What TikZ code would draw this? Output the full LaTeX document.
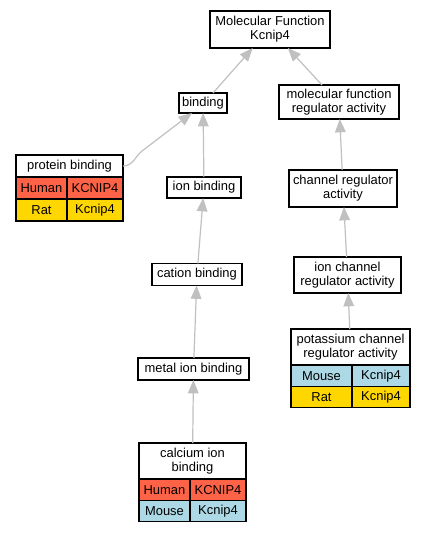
\documentclass[tikz,border=0pt]{standalone}
\usepackage{fontspec}
\setmainfont{Liberation Sans}
\usetikzlibrary{
  arrows.meta
}
\definecolor{humanfill}{HTML}{FF6347}
\definecolor{mousefill}{HTML}{ADD8E6}
\definecolor{ratfill}{HTML}{FFD700}
\definecolor{edgegray}{HTML}{C0C0C0}
\tikzset{
  go term/.style={
    draw=black,
    line width=0.8pt,
    fill=white,
    align=center,
    inner sep=0pt,
    outer sep=0pt,
    font=\fontsize{9.7}{10.5}\selectfont
  },
  species cell/.style={
    go term,
    anchor=north west,
    minimum height=16pt
  },
  is a/.style={
    draw=edgegray,
    line width=0.9pt,
    -{Triangle[length=10pt,width=8pt]}
  }
}

\begin{document}
\begin{tikzpicture}[x=0.75pt,y=-0.75pt]

    \useasboundingbox (0,0) rectangle (425,533);

    % ---------- 上段 ----------
    \node[go term, minimum width=90pt, minimum height=27.75pt]
      (mf) at (270,29.5) {Molecular Function\\Kcnip4};
    \node[go term, minimum width=36pt, minimum height=15pt]
      (binding) at (203,103) {binding};
    \node[go term, minimum width=90pt, minimum height=25.5pt]
      (mfra) at (339,102) {molecular function\\regulator activity};

    % ---------- binding 側 ----------
    \node[go term, minimum width=80.25pt, minimum height=16.5pt]
      (pb) at (69.5,166) {protein binding};
    \node[species cell, fill=humanfill, minimum width=38.25pt, minimum height=16.5pt]
      (pbHuman) at (pb.south west) {Human};
    \node[species cell, fill=humanfill, minimum width=42pt, minimum height=16.5pt]
      (pbHumanGene) at (pbHuman.north east) {KCNIP4};
    \node[species cell, fill=ratfill, minimum width=38.25pt, minimum height=16.5pt]
      (pbRat) at (pbHuman.south west) {Rat};
    \node[species cell, fill=ratfill, minimum width=42pt, minimum height=16.5pt]
      (pbRatGene) at (pbRat.north east) {Kcnip4};

    \node[go term, minimum width=55.5pt, minimum height=15.75pt]
      (ionb) at (204,187.5) {ion binding};
    \node[go term, minimum width=67.5pt, minimum height=16.5pt]
      (cationb) at (197,274.5) {cation binding};
    \node[go term, minimum width=83.25pt, minimum height=16.5pt]
      (metalb) at (193.5,369) {metal ion binding};

    \node[go term, minimum width=80.25pt, minimum height=27pt]
      (calciumb) at (192.5,461) {calcium ion\\binding};
    \node[species cell, fill=humanfill, minimum width=38.25pt]
      (caHuman) at (calciumb.south west) {Human};
    \node[species cell, fill=humanfill, minimum width=42pt]
      (caHumanGene) at (caHuman.north east) {KCNIP4};
    \node[species cell, fill=mousefill, minimum width=38.25pt]
      (caMouse) at (caHuman.south west) {Mouse};
    \node[species cell, fill=mousefill, minimum width=42pt]
      (caMouseGene) at (caMouse.north east) {Kcnip4};

    % ---------- regulator 側 ----------
    \node[go term, minimum width=81pt, minimum height=27.75pt]
      (chra) at (343,188.5) {channel regulator\\activity};
    \node[go term, minimum width=80.25pt, minimum height=27pt]
      (ichra) at (347.5,275) {ion channel\\regulator activity};

    \node[go term, minimum width=89.25pt, minimum height=27pt]
      (kchra) at (350.5,347) {potassium channel\\regulator activity};
    \node[species cell, fill=mousefill, minimum width=45.75pt]
      (kcMouse) at (kchra.south west) {Mouse};
    \node[species cell, fill=mousefill, minimum width=43.5pt]
      (kcMouseGene) at (kcMouse.north east) {Kcnip4};
    \node[species cell, fill=ratfill, minimum width=45.75pt]
      (kcRat) at (kcMouse.south west) {Rat};
    \node[species cell, fill=ratfill, minimum width=43.5pt]
      (kcRatGene) at (kcRat.north east) {Kcnip4};

    % ---------- is_a ----------
    \draw[is a] (binding.45) -- (mf.227);
    \draw[is a] (mfra.135) -- (mf.-46);
    \draw[is a] (pb.east)
      .. controls (133,166) and (135.5,156) .. (142,151)
      -- (binding.222);
    \draw[is a] (ionb) -- (binding);
    \draw[is a] (cationb) -- (ionb);
    \draw[is a] (metalb) -- (cationb);
    \draw[is a] (calciumb) -- (metalb);
    \draw[is a] (chra) -- (mfra);
    \draw[is a] (ichra) -- (chra);
    \draw[is a] (kchra) -- (ichra);

  \end{tikzpicture}
\end{document}
